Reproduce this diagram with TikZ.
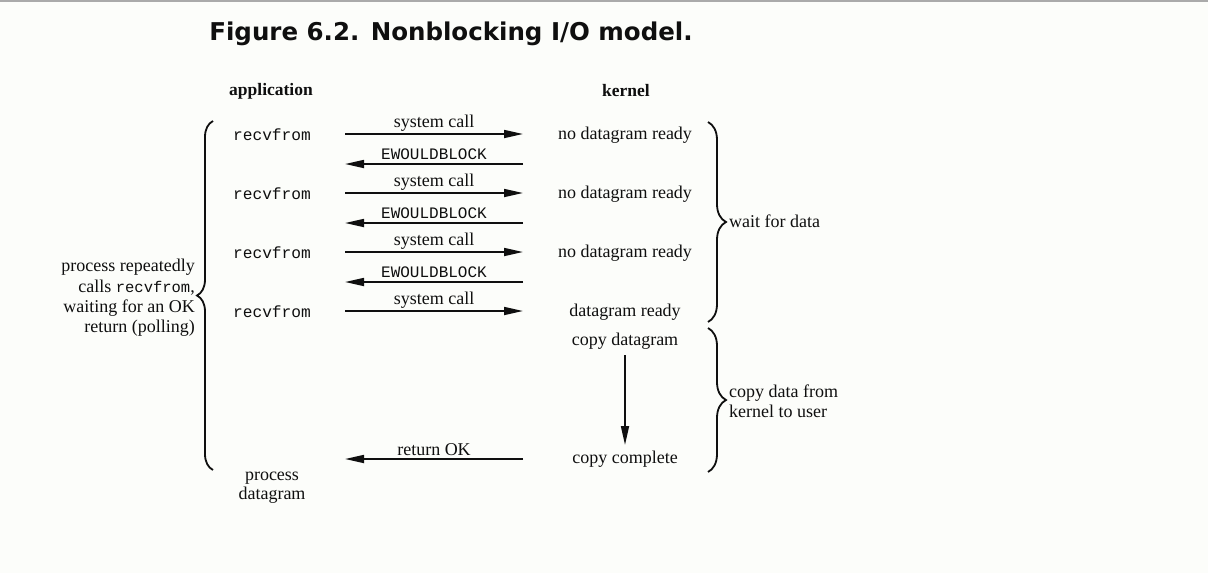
\documentclass[tikz,border=0pt]{standalone}
\usepackage{fontspec}
\setmainfont{Liberation Serif}
\setmonofont{Liberation Mono}
\newfontfamily\titlefont{DejaVu Sans}
\usetikzlibrary{arrows.meta,decorations.pathreplacing}
\definecolor{bg}{RGB}{252,253,250}
\definecolor{ink}{RGB}{15,15,15}
\definecolor{frameline}{RGB}{170,170,170}
\tikzset{
  txt/.style={font=\fontsize{18}{20}\selectfont, text=ink, inner sep=0pt},
  head/.style={font=\bfseries\fontsize{17.5}{20}\selectfont, text=ink, inner sep=0pt},
  mono/.style={font=\ttfamily\fontsize{16.2}{20}\selectfont, text=ink, inner sep=0pt},
  arr/.style={draw=ink, line width=1.7pt, -{Triangle[length=19pt,width=8pt]}},
  lbl/.style={font=\fontsize{18}{20}\selectfont, text=ink, inner sep=0pt, above=2pt},
  lblmono/.style={font=\ttfamily\fontsize{16}{20}\selectfont, text=ink, inner sep=0pt, above=3pt},
  bracedec/.style={draw=ink, line width=1.8pt, decorate, decoration={brace, amplitude=#1}},
}
\begin{document}
\begin{tikzpicture}[x=1pt,y=-1pt]
\useasboundingbox (0,0) rectangle (1208,573);
\fill[bg] (0,0) rectangle (1208,573);
\draw[frameline, line width=1.5pt] (0,0.75) -- (1208,0.75);

% title
\node[inner sep=0pt, text=ink, font=\titlefont\bfseries\fontsize{24.5}{28}\selectfont] (title) at (451,34) {Figure 6.2. Nonblocking I/O model.};

% column heads
\node[head] (app) at (271,91) {application};
\node[head] (ker) at (626,91) {kernel};

% application side
\node[mono] (r1) at (272,135) {recvfrom};
\node[mono] (r2) at (272,194) {recvfrom};
\node[mono] (r3) at (272,253) {recvfrom};
\node[mono] (r4) at (272,312) {recvfrom};
\node[txt, align=center, font=\fontsize{18}{19}\selectfont] (pd) at (272,488) {process\\datagram};

% kernel side
\node[txt] (k1) at (625,135) {no datagram ready};
\node[txt] (k2) at (625,194) {no datagram ready};
\node[txt] (k3) at (625,253) {no datagram ready};
\node[txt] (k4) at (625,312) {datagram ready};
\node[txt] (k5) at (625,341) {copy datagram};
\node[txt] (k6) at (625,459) {copy complete};

% arrow end points
\foreach \i/\y in {1/134,2/193,3/252,4/311}{
  \coordinate (sL\i) at (345,\y);
  \coordinate (sR\i) at (523,\y);
}
\foreach \i/\y in {1/164,2/223,3/282}{
  \coordinate (eL\i) at (345,\y);
  \coordinate (eR\i) at (523,\y);
}
\coordinate (okL) at (345,459);
\coordinate (okR) at (523,459);
\coordinate (cpT) at (625,355);
\coordinate (cpB) at (625,445);

% system calls
\foreach \i in {1,2,3,4}{
  \draw[arr] (sL\i) -- node[lbl] {system call} (sR\i);
}
% EWOULDBLOCK
\foreach \i in {1,2,3}{
  \draw[arr] (eR\i) -- node[lblmono] {EWOULDBLOCK} (eL\i);
}
% return OK
\draw[arr] (okR) -- node[lbl] {return OK} (okL);
% copy
\draw[arr] (cpT) -- (cpB);

% braces
\coordinate (lbB) at (213,470);
\coordinate (lbT) at (213,121);
\draw[bracedec=16pt] (lbB) -- (lbT);
\node[txt, align=right, anchor=east, font=\fontsize{18}{20.3}\selectfont] (ltxt) at (195,298)
  {process repeatedly\\calls {\ttfamily\fontsize{15.5}{20}\selectfont recvfrom},\\waiting for an OK\\return (polling)};

\coordinate (rb1T) at (708,122);
\coordinate (rb1B) at (708,322);
\draw[bracedec=18pt] (rb1T) -- (rb1B);
\node[txt, anchor=west] (wfd) at (729,221) {wait for data};

\coordinate (rb2T) at (708,328);
\coordinate (rb2B) at (708,472);
\draw[bracedec=18pt] (rb2T) -- (rb2B);
\node[txt, anchor=west, align=left, font=\fontsize{18}{19.5}\selectfont] (cdk) at (729,401) {copy data from\\kernel to user};
\end{tikzpicture}
\end{document}
